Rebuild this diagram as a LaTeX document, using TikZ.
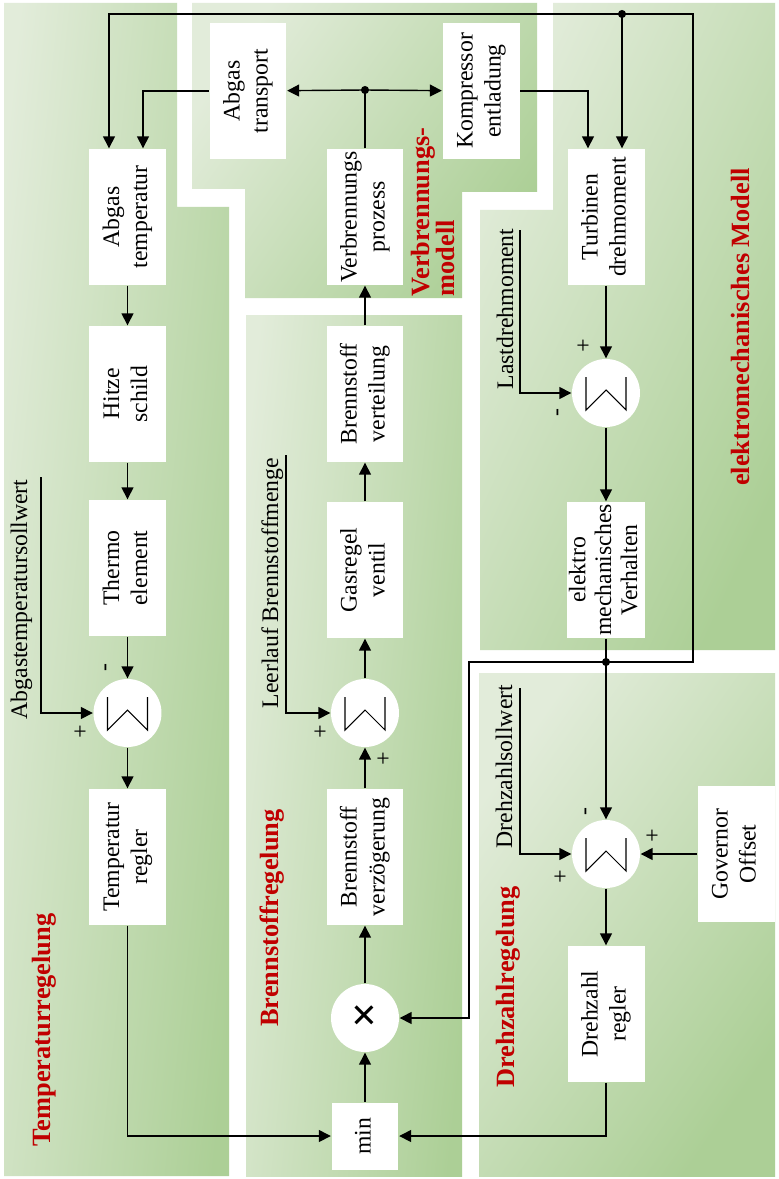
\documentclass[tikz,border=0pt]{standalone}
\usepackage{fontspec}
\setmainfont{Liberation Serif}
\usepackage{graphicx}
\usetikzlibrary{arrows.meta}
\definecolor{gl}{RGB}{226,236,218}
\definecolor{gd}{RGB}{172,207,150}
\definecolor{gred}{RGB}{192,0,0}
\newcommand{\vtext}[1]{\rotatebox{90}{\begin{tabular}{@{}c@{}}#1\end{tabular}}}
\tikzset{blk/.style={fill=white,minimum width=1.54cm,minimum height=2.72cm,inner sep=0pt,font=\fontsize{13.5}{16}\selectfont}}
\tikzset{sumc/.style={circle,fill=white,minimum size=1.36cm,inner sep=0pt}}
\tikzset{sgn/.style={inner sep=0pt,font=\fontsize{13.5}{16}\selectfont}}
\tikzset{inp/.style={rotate=90,anchor=south west,inner sep=0pt,font=\fontsize{13.5}{16}\selectfont}}
\tikzset{grp/.style={rotate=90,text=gred,font=\bfseries\fontsize{15}{14}\selectfont}}
\tikzset{panel/.style={top color=gl,bottom color=gd,shading angle=55}}

\begin{document}
\begin{tikzpicture}[x=0.02cm,y=-0.02cm,>={Triangle[length=6.8pt,width=6.8pt]},line width=0.8pt]
        \fill[white] (0,0) rectangle (778,1179);
        \useasboundingbox (0,0) rectangle (778,1179);

        % panels
        \shade[panel,shading angle=84] (4,3) -- (177,3) -- (177,207) -- (229,207) -- (229,1176) -- (4,1176) -- cycle;
        \shade[panel] (192,3) -- (537,3) -- (537,192) -- (462,192) -- (462,298) -- (245,298) -- (245,189) -- (192,189) -- cycle;
        \shade[panel,shading angle=84] (246,315) -- (462,315) -- (462,1176) -- (246,1176) -- cycle;
        \shade[panel,shading angle=65] (553,3) -- (775,3) -- (775,650) -- (480,650) -- (480,210) -- (553,210) -- cycle;
        \shade[panel] (479,673) -- (775,673) -- (775,1176) -- (479,1176) -- cycle;

        \node[grp] (g1) at (44,1030) {Temperaturregelung};
        \node[grp] (g2) at (272,918) {Brennstoffregelung};
        \node[grp,align=left] (g3) at (433,212) {Verbrennungs-\\modell};
        \node[grp] (g4) at (740,327) {elektromechanisches Modell};
        \node[grp] (g5) at (508,987) {Drehzahlregelung};

        \node[blk] (abgtemp) at (127.5,217) {\vtext{Abgas\\temperatur}};
        \node[blk] (hitze) at (127.5,394) {\vtext{Hitze\\schild}};
        \node[blk] (thermo) at (127.5,568) {\vtext{Thermo\\element}};
        \node[sumc] (s1) at (127.5,713) {};
        \node[blk] (treg) at (127.5,857) {\vtext{Temperatur\\regler}};

        \node[blk] (abgtr) at (248,91) {\vtext{Abgas\\transport}};
        \node[blk] (kompr) at (481,91) {\vtext{Kompressor\\entladung}};
        \node[blk] (verbr) at (365,217) {\vtext{Verbrennungs\\prozess}};

        \node[blk] (bvert) at (365,394) {\vtext{Brennstoff\\verteilung}};
        \node[blk] (gasreg) at (365,570) {\vtext{Gasregel\\ventil}};
        \node[sumc] (s2) at (365,713) {};
        \node[blk] (bverz) at (365,857) {\vtext{Brennstoff\\verzögerung}};
        \node[sumc,font=\bfseries\fontsize{26}{26}\selectfont] (mult) at (365,1018) {×};
        \node[blk,minimum width=1.34cm,minimum height=1.34cm] (min) at (365,1136) {\vtext{min}};

        \node[blk] (turb) at (606,217) {\vtext{Turbinen\\drehmoment}};
        \node[sumc] (s3) at (606,393) {};
        \node[blk] (emv) at (606,570) {\renewcommand\arraystretch{0.92}\vtext{elektro\\mechanisches\\Verhalten}};
        \node[sumc] (s4) at (606,854) {};
        \node[blk] (gov) at (736,854) {\vtext{Governor\\Offset}};
        \node[blk] (dreg) at (606,1014) {\vtext{Drehzahl\\regler}};

        \foreach \s in {s1,s2,s3,s4}
            \draw[line width=0.6pt] ([shift={(-20,-16)}]\s.center) -- ++(0,33) -- ++(20,-20) -- ++(20,20) -- ++(0,-33);

        \node[sgn,rotate=90] (m1) at (108,668) {-};
        \node[sgn] (p1) at (80,733) {+};
        \node[sgn] (p2) at (320,733) {+};
        \node[sgn] (p3) at (383,760) {+};
        \node[sgn] (p4) at (583,347) {+};
        \node[sgn,rotate=90] (m4) at (560,413) {-};
        \node[sgn,rotate=90] (m5) at (588,812) {-};
        \node[sgn] (p5) at (652,837) {+};
        \node[sgn] (p6) at (560,878) {+};

        % set points
        \coordinate (in1) at (41,477);
        \coordinate (in2) at (286,455);
        \coordinate (in3) at (520,230);
        \coordinate (in4) at (520,688);
        \node[inp] (l1) at (33,720) {Abgastemperatursollwert};
        \node[inp] (l2) at (284,709) {Leerlauf Brennstoffmenge};
        \node[inp] (l3) at (514,390) {Lastdrehmoment};
        \node[inp] (l4) at (513,849) {Drehzahlsollwert};
        \draw[->] (in1) |- (s1);
        \draw[->] (in2) |- (s2);
        \draw[->] (in3) |- (s3);
        \draw[->] (in4) |- (s4);

        \draw[->] (abgtemp) -- (hitze);
        \draw[->] (hitze) -- (thermo);
        \draw[->] (thermo) -- (s1);
        \draw[->] (s1) -- (treg);
        \draw[->] (treg) |- (min);
        \draw[->] (dreg) |- (min);
        \draw[->] (min) -- (mult);
        \draw[->] (mult) -- (bverz);
        \draw[->] (bverz) -- (s2);
        \draw[->] (s2) -- (gasreg);
        \draw[->] (gasreg) -- (bvert);
        \draw[->] (bvert) -- (verbr);

        \coordinate (jv) at (365,90);
        \draw (verbr) -- (jv);
        \draw[->] (jv) -- (abgtr);
        \draw[->] (jv) -- (kompr);
        \fill (jv) circle (2.3pt);
        \draw[->] (abgtr.west) -| ([xshift=0.31cm]abgtemp.north);
        \draw[->] (kompr.east) -| ([xshift=-0.36cm]turb.north);

        \draw[->] (turb) -- (s3);
        \draw[->] (s3) -- (emv);
        \draw[->] (emv) -- (s4);
        \draw[->] (s4) -- (dreg);
        \draw[->] (gov) -- (s4);

        % speed feedback
        \coordinate (jtop) at (622,14);
        \coordinate (jspd) at (606,662);
        \coordinate (cr) at (693,14);
        \coordinate (fb) at (469,662);
        \draw (jspd) -| (cr) -- (jtop);
        \draw[->] (jtop) -| ([xshift=-0.37cm]abgtemp.north);
        \draw[->] (jtop) -- (jtop |- turb.north);
        \draw[->] (jspd) -- (fb) |- (mult);
        \fill (jtop) circle (2.3pt);
        \fill (jspd) circle (2.3pt);
\end{tikzpicture}
\end{document}
